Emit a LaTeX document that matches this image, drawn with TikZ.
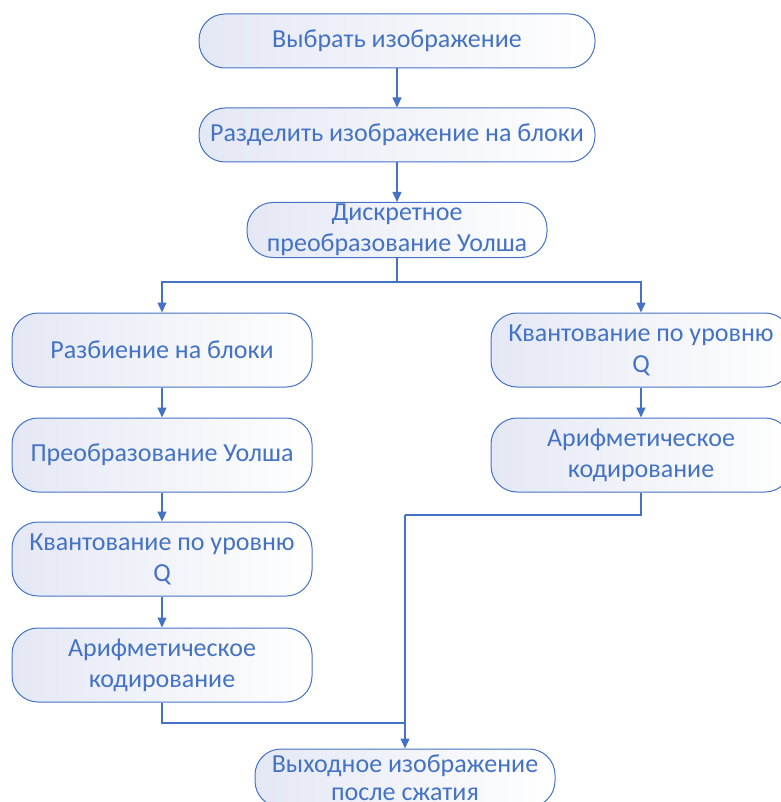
\documentclass[tikz,border=0pt]{standalone}
\usepackage{fontspec}
\setmainfont{Carlito}
\usetikzlibrary{arrows.meta,positioning}
\definecolor{wlblue}{HTML}{4472C4}
\definecolor{wlfill}{HTML}{E4E8F4}

\begin{document}
\begin{tikzpicture}[x=1pt, y=-1pt, >={Triangle[length=10pt,width=9pt]},
  st/.style={draw=wlblue, line width=1pt, rounded corners=26pt, left color=wlfill, right color=white, text=wlblue, align=center, inner sep=0pt, font=\fontsize{26}{31}\selectfont},
  wide/.style={st, minimum width=396pt, minimum height=54pt},
  blk/.style={st, minimum width=300pt, minimum height=74pt},
  link/.style={wlblue, line width=1.2pt}]
  \useasboundingbox (0,0) rectangle (780,802);
  % ---- top chain ----
  \node[wide] (sel) at (397, 41) {Выбрать изображение};
  \node[wide] (div) at (397,135) {Разделить изображение на блоки};
  \node[st, minimum width=300pt, minimum height=55pt] (dwt) at (397,230) {Дискретное\\преобразование Уолша};
  \draw[link,->] (sel) -- (div);
  \draw[link,->] (div) -- (dwt);
  \coordinate (split) at (397,282);
  % ---- left branch ----
  \foreach \i/\y/\t in {1/350/{Разбиение на блоки}, 2/455/{Преобразование Уолша}, 3/559/{Квантование по уровню\\Q}, 4/665/{Арифметическое\\кодирование}} { \node[blk] (l\i) at (162,\y) {\t}; }
  % ---- right branch ----
  \foreach \i/\y/\t in {1/350/{Квантование по уровню\\Q}, 2/455/{Арифметическое\\кодирование}} { \node[blk] (r\i) at (641,\y) {\t}; }
  \draw[link] (dwt) -- (split);
  \draw[link,->] (split) -| (l1);
  \draw[link,->] (split) -| (r1);
  \foreach \a/\b in {l1/l2, l2/l3, l3/l4, r1/r2} { \draw[link,->] (\a) -- (\b); }
  % ---- output ----
  \node[blk, minimum height=58pt, font=\fontsize{26}{28}\selectfont] (out) at (405,778) {Выходное изображение\\после сжатия};
  \coordinate (rjoin) at (405,515);
  \coordinate (ljoin) at (405,723);
  \draw[link] (r2) |- (rjoin);
  \draw[link] (l4) |- (ljoin);
  \draw[link,->] (rjoin) -- (out);
\end{tikzpicture}
\end{document}
